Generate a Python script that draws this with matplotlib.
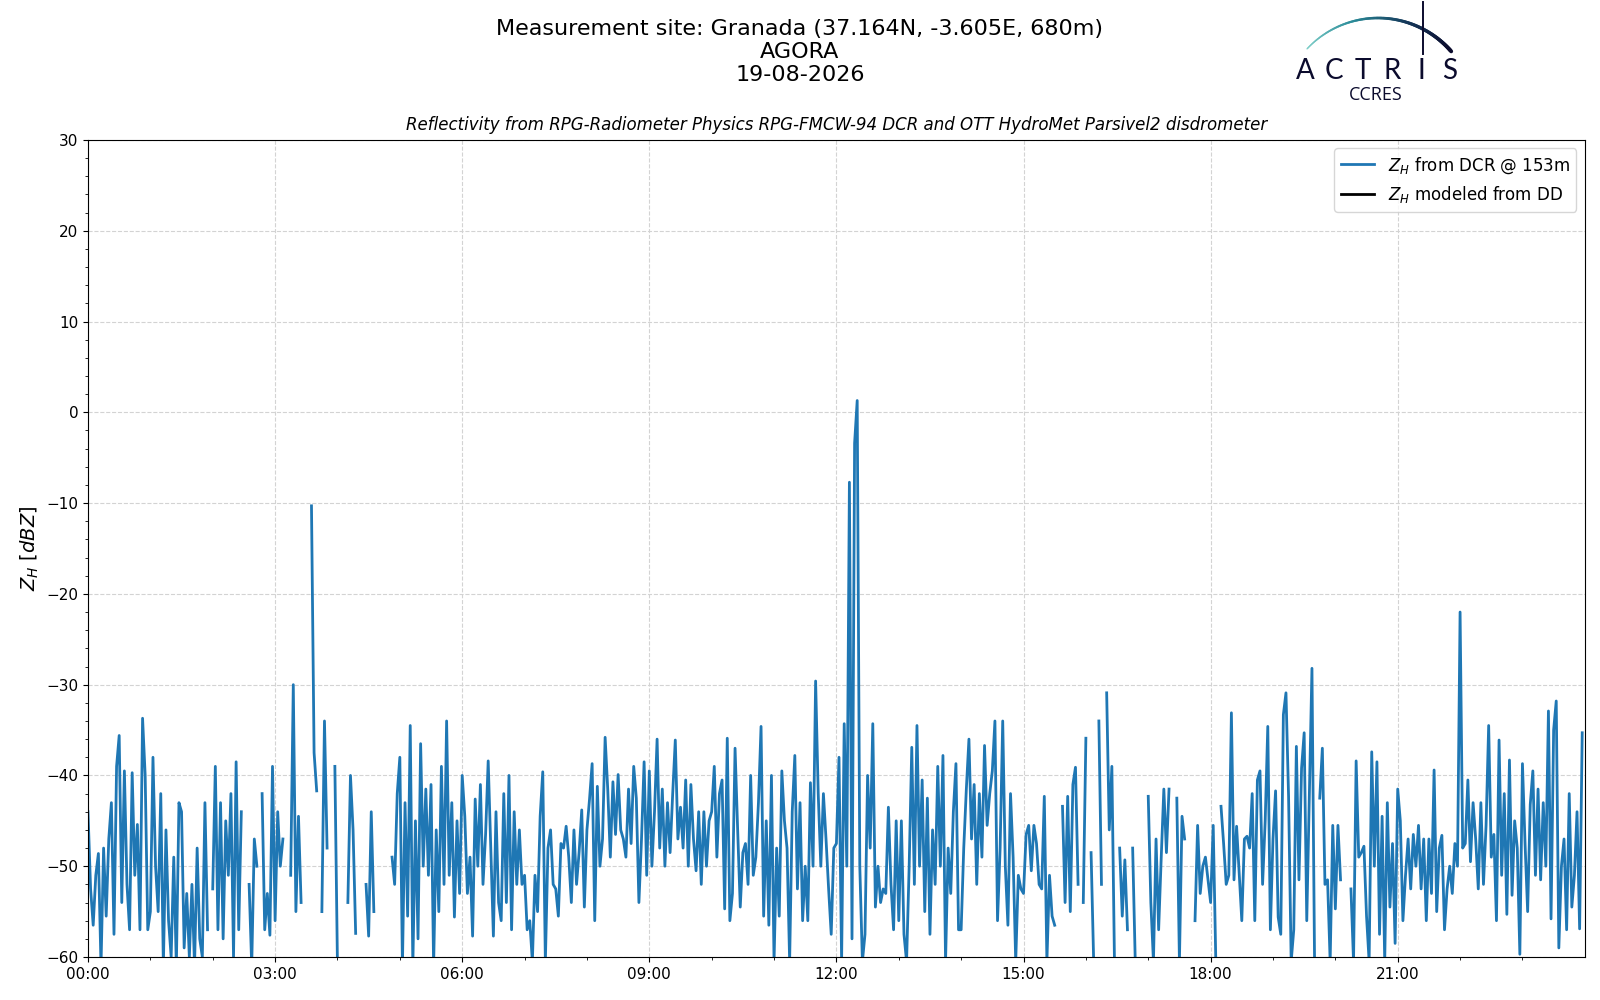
import numpy as np
import pandas as pd
import matplotlib
matplotlib.use("Agg")
import matplotlib.pyplot as plt
import matplotlib.dates as mdates
from matplotlib.collections import LineCollection
from matplotlib.colors import LinearSegmentedColormap

nan = np.nan

# Z_H from the DCR @ 153m, one value every 2.5 min, one list per hour
zh_h00 = [-44, -52.5, -56.5, -51, -48.6, -61, -48, -55.5, -47, -43, -57.5, -39, -35.6, -54, -39.5, -52, -57, -39.7, -51, -45.4, -57, -33.7, -40, -57]
zh_h01 = [-55, -38, -50, -55, -42, -61, -46, -56, -60, -49, -61, -43, -44, -59, -53, -60, -52, -61, -48, -58, -60, -43, -57, nan]
zh_h02 = [-52.5, -39, -57, -43, -58, -45, -51, -42, -60, -38.5, -57, -44, nan, nan, -52, -61, -47, -50, nan, -42, -57, -53, -57.6, -39]
zh_h03 = [-56, -44, -50, -47, nan, nan, -51, -30, -55, -44.5, -54, nan, nan, nan, -10.3, -37.5, -41.7, nan, -55, -34, -48, nan, nan, -39]
zh_h04 = [-61, nan, nan, nan, -54, -40, -46, -57.4, nan, nan, nan, -52, -57.7, -44, -55, nan, nan, nan, nan, nan, nan, -49, -52, -42]
zh_h05 = [-38, -61, -43, -55.5, -34.5, -61, -45, -58, -36.5, -50, -41.5, -51, -41, -61, -46, -55, -39, -52, -34, -51, -43, -55.6, -45, -53]
zh_h06 = [-40, -44.5, -53, -49, -57.7, -42.6, -50, -41, -52, -46.5, -38.4, -48, -57.7, -44, -54, -56, -42, -54, -40, -57, -44, -52, -46, -52]
zh_h07 = [-51, -57, -56, -60.5, -51, -55, -44.5, -39.6, -60.5, -48, -46, -52, -52.5, -55.5, -47.5, -48, -45.6, -49, -54, -46, -52, -48.4, -43.8, -54.5]
zh_h08 = [-46, -42.6, -38.7, -56, -41.2, -50, -47, -35.8, -41.5, -49, -40.7, -46.5, -39.9, -46, -47, -49, -41.5, -47.5, -39, -42.5, -54, -47, -38.5, -51]
zh_h09 = [-39.5, -50, -44, -36, -48, -41.5, -50, -43, -48.5, -42, -36.1, -47, -43.5, -48, -40.5, -50, -41, -47, -50.5, -44, -52, -44, -50, -45]
zh_h10 = [-44, -39, -49, -42, -40.5, -54.7, -35.9, -56, -53, -37, -46, -54.5, -48.5, -47.5, -52, -40, -51, -49, -43, -34.6, -55.5, -45, -56.5, -40]
zh_h11 = [-60.5, -48, -55.5, -39.5, -45, -48, -60.5, -44, -37.8, -52.5, -43, -56, -50, -56, -40.8, -50, -29.6, -42, -50, -42, -47, -52.5, -57.5, -48]
zh_h12 = [-47.5, -38, -60.5, -34.3, -50, -7.7, -58, -3.4, 1.3, -50, -60.5, -57.5, -40, -48, -34.3, -54.5, -50, -54, -52.5, -53, -43.5, -52, -57, -45]
zh_h13 = [-56, -45, -57.5, -60.5, -50, -36.9, -52, -34.5, -50, -40.5, -55, -42.5, -57.5, -46, -52, -39, -50, -37.8, -60.5, -48, -53, -44, -38.7, -57]
zh_h14 = [-57, -48, -41.5, -36, -47, -41, -52, -42, -49, -36.7, -45.5, -42, -39.5, -34, -56, -48, -34, -50, -56.5, -42, -49, -60.5, -51, -52.5]
zh_h15 = [-53, -46.5, -45.5, -50.5, -45.5, -47.5, -52, -52.5, -42.3, -60.5, -51, -55.5, -56.5, nan, nan, -43.4, -54, -42.3, -55, -41, -39.1, -52, nan, -54]
zh_h16 = [-35.9, nan, -48.5, -60.5, nan, -34, -52, nan, -30.9, -46, -39, -60.5, nan, -48, -55.5, -49.3, -57, nan, -48, -60.5, nan, nan, nan, nan]
zh_h17 = [-42.3, -54, -60.5, -47, -57, -49, -41.5, -48.5, -41.5, nan, nan, -42.5, -60.5, -44.5, -47, nan, nan, nan, -56, -45.5, -53, -50, -49, -51.5]
zh_h18 = [-54, -45.5, -60.5, nan, -43.4, -47.5, -52, -51, -33.1, -51.5, -45.6, -50.8, -56, -47, -46.7, -48, -42, -56, -40.5, -39.5, -52, -45, -34.6, -57]
zh_h19 = [-47, -41.7, -55.6, -57.5, -33.3, -30.9, -42.3, -60.5, -57, -36.8, -51.5, -39.2, -35.3, -56, -42, -28.2, -60.5, nan, -42.5, -37, -52, -51.5, -60.5, -45.5]
zh_h20 = [-54.7, -45.5, -51.5, nan, nan, nan, -52.5, -60.5, -38.4, -49, -48.5, -47.8, -55.5, -60.5, -37.4, -50, -38.5, -57.5, -44.5, -60.5, -43, -54.5, -47.5, -58.5]
zh_h21 = [-41.5, -45, -56, -51, -47, -52.5, -46.5, -50, -45.5, -52.5, -47, -56, -47, -53, -39.4, -55, -48, -46.6, -57, -52.5, -50, -53, -47.5, -50]
zh_h22 = [-22, -48, -47.5, -40.5, -49.5, -43, -47, -52.5, -43, -52, -45.5, -34.5, -49, -46.5, -56, -36.1, -51, -42, -55.3, -38.3, -53.2, -45, -48, -59.7]
zh_h23 = [-38.7, -47.5, -55, -43.2, -39.5, -51, -41.5, -51.5, -43, -50, -32.9, -55.8, -35, -31.8, -59, -50, -47, -57, -42, -54.5, -51, -44, -56.9, -35.3]

zh_dcr = np.concatenate([zh_h00, zh_h01, zh_h02, zh_h03, zh_h04, zh_h05, zh_h06, zh_h07,
                         zh_h08, zh_h09, zh_h10, zh_h11, zh_h12, zh_h13, zh_h14, zh_h15,
                         zh_h16, zh_h17, zh_h18, zh_h19, zh_h20, zh_h21, zh_h22, zh_h23])
times = pd.date_range("2026-08-19 00:00", periods=len(zh_dcr), freq="150s")

site = "Measurement site: Granada (37.164N, -3.605E, 680m)"
station = "AGORA"
day = "19-08-2026"
subtitle = "Reflectivity from RPG-Radiometer Physics RPG-FMCW-94 DCR and OTT HydroMet Parsivel2 disdrometer"

fig = plt.figure(figsize=(16, 10), dpi=100)
ax = fig.add_axes([0.055, 0.043, 0.9355, 0.817])

ax.plot(times, zh_dcr, color="tab:blue", lw=2.0, label=r"$Z_H$ from DCR @ 153m")
ax.plot([], [], color="black", lw=2.0, label=r"$Z_H$ modeled from DD")

ax.set_xlim(pd.Timestamp("2026-08-19 00:00"), pd.Timestamp("2026-08-19 23:59:59"))
ax.set_ylim(-60, 30)
ax.xaxis.set_major_locator(mdates.HourLocator(byhour=range(0, 24, 3)))
ax.xaxis.set_minor_locator(mdates.HourLocator())
ax.xaxis.set_major_formatter(mdates.DateFormatter("%H:%M"))
ax.yaxis.set_major_locator(plt.MultipleLocator(10))
ax.yaxis.set_minor_locator(plt.MultipleLocator(2))
ax.tick_params(labelsize=11)
ax.grid(True, which="major", ls="--", color="lightgray", lw=0.8)
ax.set_ylabel(r"$Z_H$ [$dBZ$]", fontsize=14)
ax.set_title(subtitle, fontsize=12, style="italic", pad=7)
ax.legend(loc="upper right", fontsize=12)

fig.text(0.5, 1 - 0.0285, site, ha="center", va="center", fontsize=16)
fig.text(0.5, 1 - 0.0515, station, ha="center", va="center", fontsize=16)
fig.text(0.5, 1 - 0.0750, day, ha="center", va="center", fontsize=16)

# ACTRIS / CCRES logo, drawn in figure pixels
lax = fig.add_axes([0, 0, 1, 1], zorder=5)
lax.set_xlim(0, 1600)
lax.set_ylim(1000, 0)
lax.axis("off")
t = np.radians(np.linspace(137, 41, 120))
arc_x = 1378 + 97 * np.cos(t)
arc_y = 115 - 97 * np.sin(t)
pts = np.column_stack([arc_x, arc_y]).reshape(-1, 1, 2)
segs = np.concatenate([pts[:-1], pts[1:]], axis=1)
logo_cmap = LinearSegmentedColormap.from_list("actris", ["#7fcfc9", "#2b8c99", "#163a5c", "#0b0b2d"])
lc = LineCollection(segs, colors=logo_cmap(np.linspace(0, 1, len(segs))),
                    linewidths=np.linspace(1.0, 2.8, len(segs)), capstyle="round")
lax.add_collection(lc)
lax.plot([1423, 1423], [2, 54], color="#0b0b2d", lw=1.4)
for letter, lx in zip("ACTRIS", [1305, 1334, 1363, 1392, 1421, 1450]):
    lax.text(lx, 79, letter, ha="center", va="baseline", fontsize=20,
             family="Lato", color="#0b0b2d")
lax.text(1376, 100, "CCRES", ha="center", va="baseline", fontsize=13,
         family="Open Sans", color="#0b0b2d")

fig.savefig("out.png", dpi=100)
